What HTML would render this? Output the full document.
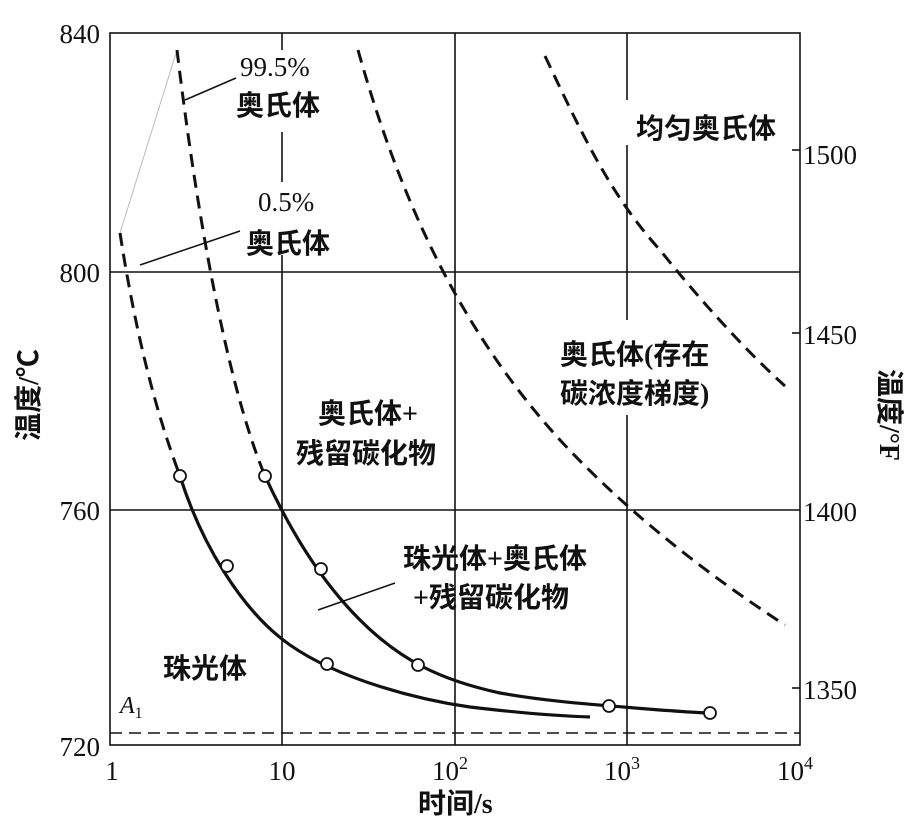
<!DOCTYPE html>
<html><head><meta charset="utf-8"><style>
html,body{margin:0;padding:0;background:#fff;}
svg{display:block;}
text{font-family:"Liberation Serif","Noto Sans CJK SC",serif;fill:#111;}
.c{font-family:"Liberation Sans","Noto Sans CJK SC",sans-serif;font-weight:bold;}
</style></head><body>
<svg width="914" height="821" viewBox="0 0 914 821" xmlns="http://www.w3.org/2000/svg">
<rect width="914" height="821" fill="#fff"/>
<g stroke="#111" stroke-width="1.6" fill="none">
<rect x="110" y="33" width="690" height="712"/>
<line x1="110" y1="272" x2="800" y2="272"/>
<line x1="110" y1="510" x2="800" y2="510"/>
<line x1="282" y1="33" x2="282" y2="50"/>
<line x1="282" y1="132" x2="282" y2="182"/>
<line x1="282" y1="255" x2="282" y2="745"/>
<line x1="455" y1="33" x2="455" y2="745"/>
<line x1="627" y1="33" x2="627" y2="100"/>
<line x1="627" y1="145" x2="627" y2="320"/>
<line x1="627" y1="415" x2="627" y2="745"/>
<line x1="792" y1="150" x2="800" y2="150"/>
<line x1="792" y1="333" x2="800" y2="333"/>
<line x1="792" y1="688" x2="800" y2="688"/>
</g>
<line x1="110" y1="733" x2="800" y2="733" stroke="#111" stroke-width="1.6" stroke-dasharray="12,7"/>
<line x1="120" y1="233" x2="177" y2="50" stroke="#bbb" stroke-width="1"/>
<g stroke="#111" stroke-width="3" fill="none" stroke-dasharray="13,8">
<path d="M120,233 C135,330 155,410 180,476"/>
<path d="M177,50 C195,200 225,380 265,476"/>
<path d="M358,50 C400,200 460,330 560,440 C620,505 700,570 785,625"/>
<path d="M545,56 C580,130 610,195 660,250 C700,300 745,350 785,386"/>
</g>
<g stroke="#111" stroke-width="3.2" fill="none">
<path d="M180,476 C200,540 240,610 290,645 C340,680 420,700 470,707 C520,713 560,716 590,717"/>
<path d="M265,476 C290,530 320,580 360,620 C400,660 440,680 500,693 C550,702 600,705 660,710 C690,712 700,713 710,713"/>
</g>
<g stroke="#111" stroke-width="1.8" fill="#fff">
<circle cx="180" cy="476" r="6"/><circle cx="227" cy="566" r="6"/><circle cx="327" cy="664" r="6"/>
<circle cx="265" cy="476" r="6"/><circle cx="321" cy="569" r="6"/><circle cx="418" cy="665" r="6"/>
<circle cx="609" cy="706" r="6"/><circle cx="710" cy="713" r="6"/>
</g>
<g stroke="#111" stroke-width="1.5">
<line x1="185" y1="100" x2="236" y2="78"/>
<line x1="140" y1="265" x2="240" y2="231"/>
<line x1="318" y1="610" x2="395" y2="583"/>
</g>
<g font-size="27">
<text x="100" y="43" text-anchor="end">840</text>
<text x="100" y="282" text-anchor="end">800</text>
<text x="100" y="520" text-anchor="end">760</text>
<text x="100" y="756" text-anchor="end">720</text>
<text x="803" y="164">1500</text>
<text x="803" y="344">1450</text>
<text x="803" y="521">1400</text>
<text x="803" y="699">1350</text>
<text x="112" y="780" text-anchor="middle">1</text>
<text x="282" y="780" text-anchor="middle">10</text>
<text x="450" y="780" text-anchor="middle">10<tspan font-size="18" dy="-11">2</tspan></text>
<text x="622" y="780" text-anchor="middle">10<tspan font-size="18" dy="-11">3</tspan></text>
<text x="795" y="780" text-anchor="middle">10<tspan font-size="18" dy="-11">4</tspan></text>
<text x="120" y="713" font-style="italic" font-size="24">A<tspan font-size="16" dy="5" font-style="normal">1</tspan></text>
<text x="240" y="76">99.5%</text>
<text x="258" y="211">0.5%</text>
</g>
<g font-size="28" class="c">
<text x="236" y="115">奥氏体</text>
<text x="246" y="253">奥氏体</text>
<text x="318" y="423">奥氏体+</text>
<text x="296" y="463">残留碳化物</text>
<text x="636" y="138">均匀奥氏体</text>
<text x="560" y="364">奥氏体(存在</text>
<text x="560" y="403">碳浓度梯度)</text>
<text x="403" y="568">珠光体+奥氏体</text>
<text x="413" y="607">+残留碳化物</text>
<text x="163" y="678">珠光体</text>
<text x="418" y="813">时间/s</text>
<text transform="translate(38,395) rotate(-90)" text-anchor="middle">温度/℃</text>
<text transform="translate(880,415) rotate(90)" text-anchor="middle">温度/°F</text>
</g>
</svg>
</body></html>
